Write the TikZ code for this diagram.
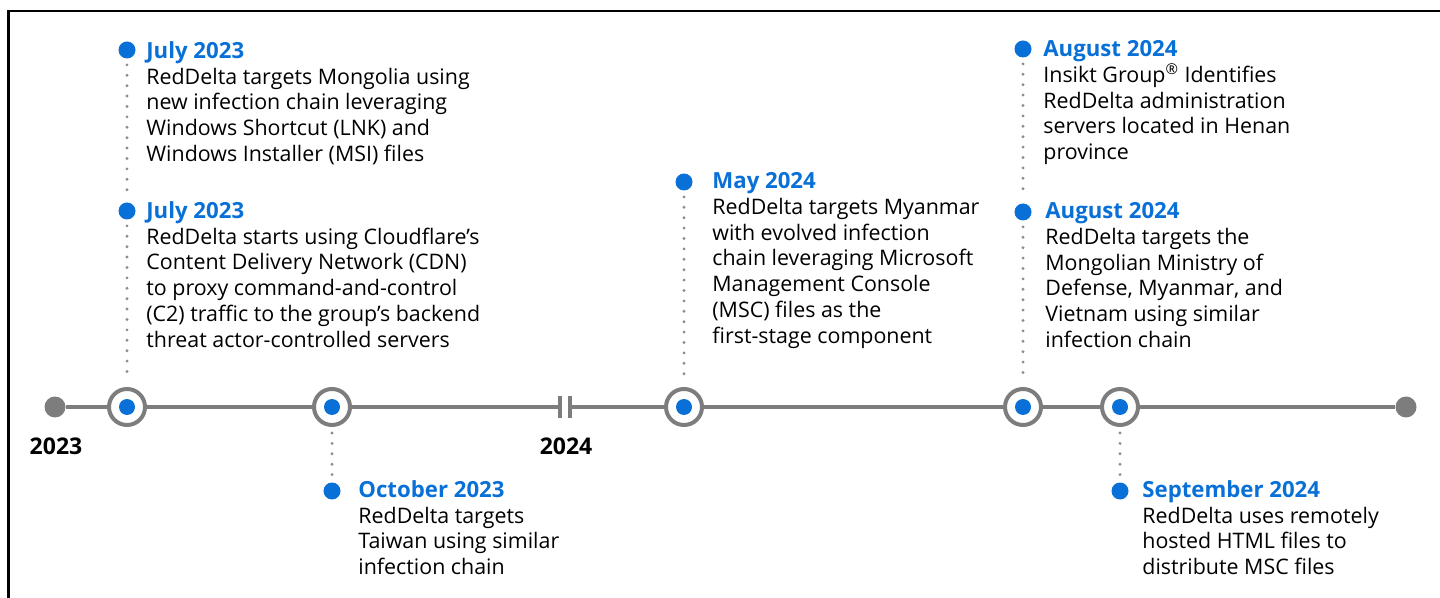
\documentclass[tikz,border=0pt]{standalone}
\usepackage{fontspec}
\setmainfont{Open Sans}
\definecolor{evblue}{RGB}{8,112,214}
\definecolor{axisgray}{RGB}{125,125,125}
\definecolor{leadgray}{RGB}{140,140,140}
\newcommand{\evtitle}[1]{{\fontsize{11.1}{12.9}\selectfont\bfseries\color{evblue}#1}}
\tikzset{
    axisline/.style={draw=axisgray, line width=1.8pt},
    ringmark/.style={circle, draw=axisgray, line width=2pt, fill=white, minimum size=18pt, inner sep=0pt},
    innerdot/.style={circle, fill=evblue, minimum size=8pt, inner sep=0pt},
    eventdot/.style={circle, fill=evblue, minimum size=8.5pt, inner sep=0pt},
    enddot/.style={circle, fill=axisgray, minimum size=10.5pt, inner sep=0pt},
    breakbar/.style={fill=axisgray, minimum width=2pt, minimum height=11pt, inner sep=0pt},
    leader/.style={draw=leadgray, line width=1.6pt, line cap=round, dash pattern=on 0pt off 5.2pt, shorten <=3pt, shorten >=3pt},
    eventtext/.style={anchor=north west, align=left, inner sep=0pt, font=\fontsize{10.7}{12.9}\selectfont},
    yearlabel/.style={anchor=base, inner sep=0pt, font=\fontsize{11.5}{13}\selectfont\bfseries}
}
\begin{document}
\begin{tikzpicture}[x=0.5pt, y=-0.5pt]
    \useasboundingbox (0,0) rectangle (1440,598);
    \draw[black, line width=1.2pt] (1440,11) -| (8.5,600);

    % timeline
    \node[enddot] (start) at (55,407) {};
    \node[enddot] (end) at (1406,407) {};
    \node[breakbar] (brkA) at (560,407) {};
    \node[breakbar] (brkB) at (570,407) {};
    \foreach \n/\x in {1/127, 2/332, 3/684, 4/1023, 5/1120}
        \node[ringmark] (r\n) at (\x,407) {};
    \foreach \n in {1, 2, 3, 4, 5}
        \node[innerdot] at (r\n) {};
    \draw[axisline] (start) -- (r1) -- (r2) -- (brkA);
    \draw[axisline] (brkB) -- (r3) -- (r4) -- (r5) -- (end);

    \node[yearlabel] (y2023) at (56,454) {2023};
    \node[yearlabel] (y2024) at (566,454) {2024};

    % events above the line
    \node[eventdot] (d1) at (127,50) {};
    \node[eventtext] (e1) at (146,41) {\evtitle{July 2023}\\RedDelta targets Mongolia using\\new infection chain leveraging\\Windows Shortcut (LNK) and\\Windows Installer (MSI) files};
    \node[eventdot] (d2) at (127,211) {};
    \node[eventtext] (e2) at (146,201) {\evtitle{July 2023}\\RedDelta starts using Cloudflare’s\\Content Delivery Network (CDN)\\to proxy command-and-control\\(C2) traffic to the group’s backend\\threat actor-controlled servers};
    \node[eventdot] (d3) at (684,182) {};
    \node[eventtext] (e3) at (712,172) {\evtitle{May 2024}\\RedDelta targets Myanmar\\with evolved infection\\chain leveraging Microsoft\\Management Console\\(MSC) files as the\\first-stage component};
    \node[eventdot] (d4) at (1023,49) {};
    \node[eventtext] (e4) at (1043,40) {\evtitle{August 2024}\\Insikt Group\textsuperscript{®} Identifies\\RedDelta administration\\servers located in Henan\\province};
    \node[eventdot] (d5) at (1023,212) {};
    \node[eventtext] (e5) at (1045,202) {\evtitle{August 2024}\\RedDelta targets the\\Mongolian Ministry of\\Defense, Myanmar, and\\Vietnam using similar\\infection chain};

    % events below the line
    \node[eventdot] (d6) at (332,491) {};
    \node[eventtext] (e6) at (358,480) {\evtitle{October 2023}\\RedDelta targets\\Taiwan using similar\\infection chain};
    \node[eventdot] (d7) at (1120,491) {};
    \node[eventtext] (e7) at (1142,480) {\evtitle{September 2024}\\RedDelta uses remotely\\hosted HTML files to\\distribute MSC files};

    \draw[leader] (d1) -- (d2);  % July -- July
    \draw[leader] (d2) -- (r1);
    \draw[leader] (d3) -- (r3);
    \draw[leader] (d4) -- (d5);  % August -- August
    \draw[leader] (d5) -- (r4);
    \draw[leader] (r2) -- (d6);
    \draw[leader] (r5) -- (d7);
\end{tikzpicture}
\end{document}
